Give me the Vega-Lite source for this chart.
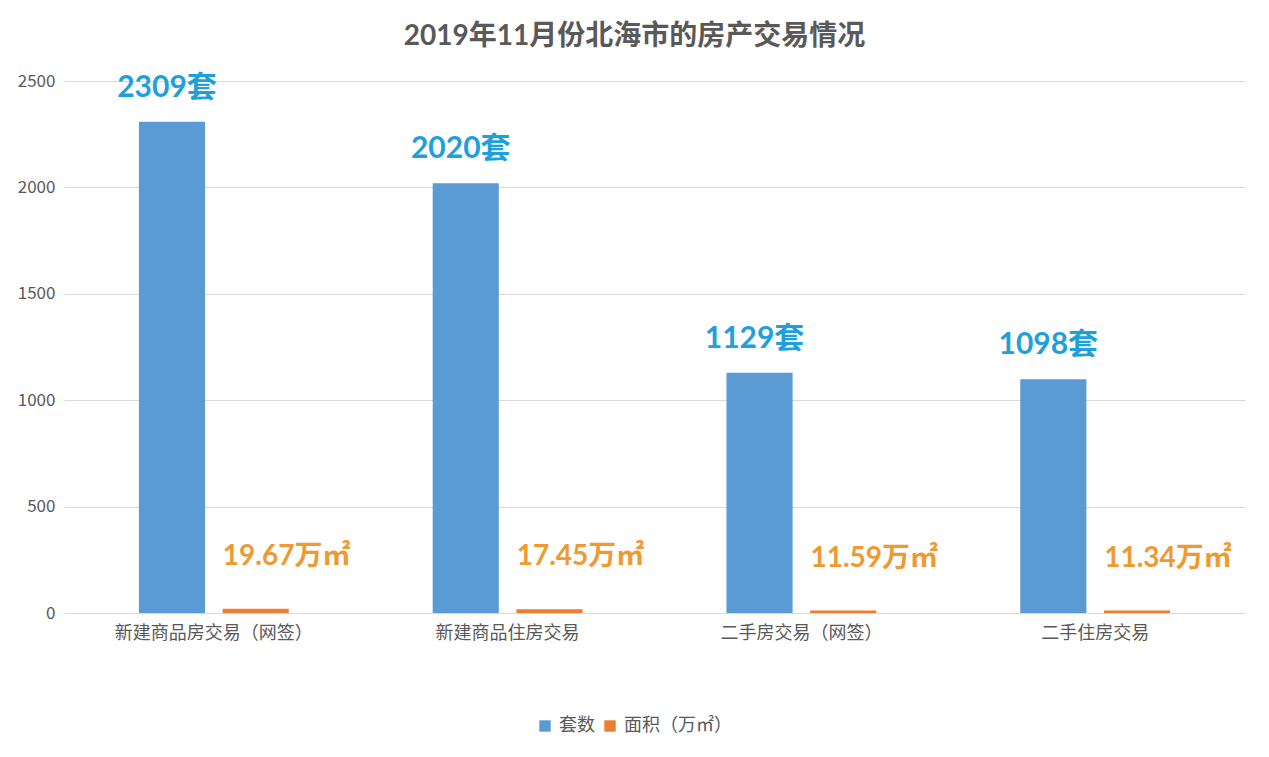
{
  "$schema": "https://vega.github.io/schema/vega-lite/v6.json",
  "width": 1181,
  "height": 532,
  "autosize": {"type": "none"},
  "padding": {"left": 64, "top": 81, "right": 24, "bottom": 144},
  "background": "white",
  "title": {
    "text": "2019年11月份北海市的房产交易情况",
    "font": "Lato, Noto Sans CJK SC",
    "fontSize": 28,
    "fontWeight": "bold",
    "color": "#595959",
    "anchor": "middle",
    "dx": -20,
    "offset": 21
  },
  "data": {
    "values": [
      {"category": "新建商品房交易（网签）", "series": "套数", "value": 2309, "label": "2309套"},
      {"category": "新建商品房交易（网签）", "series": "面积（万㎡）", "value": 19.67, "label": "19.67万㎡"},
      {"category": "新建商品住房交易", "series": "套数", "value": 2020, "label": "2020套"},
      {"category": "新建商品住房交易", "series": "面积（万㎡）", "value": 17.45, "label": "17.45万㎡"},
      {"category": "二手房交易（网签）", "series": "套数", "value": 1129, "label": "1129套"},
      {"category": "二手房交易（网签）", "series": "面积（万㎡）", "value": 11.59, "label": "11.59万㎡"},
      {"category": "二手住房交易", "series": "套数", "value": 1098, "label": "1098套"},
      {"category": "二手住房交易", "series": "面积（万㎡）", "value": 11.34, "label": "11.34万㎡"}
    ]
  },
  "encoding": {
    "x": {
      "field": "category",
      "type": "nominal",
      "sort": null,
      "scale": {"paddingInner": 0.49, "paddingOuter": 0.255},
      "axis": {
        "title": null,
        "labelAngle": 0,
        "labelFont": "Noto Sans CJK SC",
        "labelFontSize": 18,
        "labelColor": "#595959",
        "labelPadding": 11,
        "labelLimit": 400,
        "ticks": false,
        "domain": false
      }
    },
    "xOffset": {
      "field": "series",
      "type": "nominal",
      "sort": null,
      "scale": {"paddingInner": 0.21, "paddingOuter": 0}
    },
    "y": {
      "field": "value",
      "type": "quantitative",
      "scale": {"domain": [0, 2500]},
      "axis": {
        "title": null,
        "values": [0, 500, 1000, 1500, 2000, 2500],
        "format": "d",
        "labelFont": "Noto Sans CJK SC",
        "labelFontSize": 17,
        "labelColor": "#595959",
        "labelPadding": 9,
        "ticks": false,
        "domain": false,
        "gridColor": "#d9d9d9",
        "gridWidth": 1
      }
    }
  },
  "layer": [
    {
      "mark": {"type": "bar"},
      "encoding": {
        "color": {
          "field": "series",
          "type": "nominal",
          "sort": null,
          "scale": {"domain": ["套数", "面积（万㎡）"], "range": ["#5B9BD5", "#ED7D31"]},
          "legend": {
            "title": null,
            "orient": "none",
            "direction": "horizontal",
            "legendX": 472,
            "legendY": 636,
            "symbolType": "square",
            "symbolSize": 130,
            "symbolStrokeWidth": 0,
            "labelFont": "Noto Sans CJK SC",
            "labelFontSize": 18,
            "labelColor": "#595959",
            "columnPadding": 6,
            "labelOffset": 5
          }
        }
      }
    },
    {
      "transform": [{"filter": "datum.series === '套数'"}],
      "mark": {
        "type": "text",
        "font": "Lato, Noto Sans CJK SC",
        "fontSize": 30,
        "fontWeight": "bold",
        "color": "#1FA0DA",
        "baseline": "middle",
        "dy": -34,
        "dx": -5
      },
      "encoding": {"text": {"field": "label"}}
    },
    {
      "transform": [{"filter": "datum.series === '面积（万㎡）'"}],
      "mark": {
        "type": "text",
        "font": "Lato, Noto Sans CJK SC",
        "fontSize": 28,
        "fontWeight": "bold",
        "color": "#EE9A33",
        "baseline": "middle",
        "dy": -52,
        "dx": 31
      },
      "encoding": {"text": {"field": "label"}}
    }
  ],
  "config": {
    "view": {"stroke": null}
  }
}
